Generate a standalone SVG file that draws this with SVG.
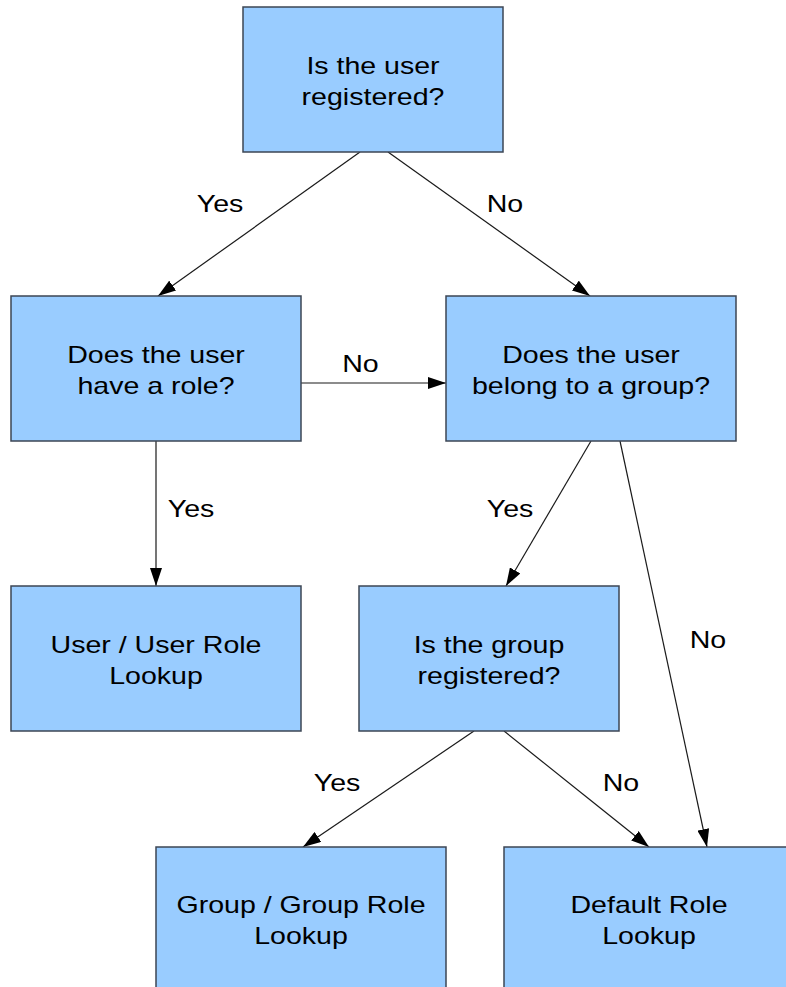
<svg xmlns="http://www.w3.org/2000/svg" width="786" height="987" viewBox="0 0 786 987">
<style>
.box{fill:#99ccff;stroke:#3c4654;stroke-width:1.5}
.t{font-family:"Liberation Sans",Arial,sans-serif;font-size:24px;fill:#000;text-anchor:middle}
.c{stroke:#1a1a1a;stroke-width:1.2;fill:none;marker-end:url(#ah)}
</style>
<defs>
<marker id="ah" markerUnits="userSpaceOnUse" markerWidth="18" markerHeight="12" refX="18" refY="6" orient="auto" viewBox="0 0 18 12">
<path d="M0,0 L18,6 L0,12 z" fill="#000"/>
</marker>
</defs>
<rect width="786" height="987" fill="#fff"/>
<g id="connectors">
<line class="c" x1="360" y1="152" x2="158" y2="296"/>
<line class="c" x1="388" y1="152" x2="590" y2="296"/>
<line class="c" x1="301" y1="383" x2="446" y2="383"/>
<line class="c" x1="156" y1="441" x2="156" y2="586"/>
<line class="c" x1="591" y1="441" x2="506" y2="586"/>
<line class="c" x1="620" y1="441" x2="707" y2="847"/>
<line class="c" x1="474" y1="731" x2="303" y2="847"/>
<line class="c" x1="504" y1="731" x2="649" y2="847"/>
<g id="labels">
<text class="t" transform="translate(220,212) scale(1.19,1)">Yes</text>
<text class="t" transform="translate(505,212) scale(1.19,1)">No</text>
<text class="t" transform="translate(360.5,372) scale(1.19,1)">No</text>
<text class="t" transform="translate(191,517) scale(1.19,1)">Yes</text>
<text class="t" transform="translate(510,517) scale(1.19,1)">Yes</text>
<text class="t" transform="translate(708,648) scale(1.19,1)">No</text>
<text class="t" transform="translate(621,791) scale(1.19,1)">No</text>
<text class="t" transform="translate(337,791) scale(1.19,1)">Yes</text>
</g>
</g>
<g id="n1">
<rect class="box" x="243" y="7" width="260" height="145"/>
<text class="t" transform="translate(373,74) scale(1.19,1)">Is the user</text>
<text class="t" transform="translate(373,104.5) scale(1.19,1)">registered?</text>
</g>
<g id="n2">
<rect class="box" x="11" y="296" width="290" height="145"/>
<text class="t" transform="translate(156,363) scale(1.19,1)">Does the user</text>
<text class="t" transform="translate(156,393.5) scale(1.19,1)">have a role?</text>
</g>
<g id="n3">
<rect class="box" x="446" y="296" width="290" height="145"/>
<text class="t" transform="translate(591,363) scale(1.19,1)">Does the user</text>
<text class="t" transform="translate(591,393.5) scale(1.19,1)">belong to a group?</text>
</g>
<g id="n4">
<rect class="box" x="11" y="586" width="290" height="145"/>
<text class="t" transform="translate(156,653) scale(1.19,1)">User / User Role</text>
<text class="t" transform="translate(156,683.5) scale(1.19,1)">Lookup</text>
</g>
<g id="n5">
<rect class="box" x="359" y="586" width="260" height="145"/>
<text class="t" transform="translate(489,653) scale(1.19,1)">Is the group</text>
<text class="t" transform="translate(489,683.5) scale(1.19,1)">registered?</text>
</g>
<g id="n6">
<rect class="box" x="156" y="847" width="290" height="145"/>
<text class="t" transform="translate(301,913) scale(1.19,1)">Group / Group Role</text>
<text class="t" transform="translate(301,943.5) scale(1.19,1)">Lookup</text>
</g>
<g id="n7">
<rect class="box" x="504" y="847" width="290" height="145"/>
<text class="t" transform="translate(649,913) scale(1.19,1)">Default Role</text>
<text class="t" transform="translate(649,943.5) scale(1.19,1)">Lookup</text>
</g>
</svg>
